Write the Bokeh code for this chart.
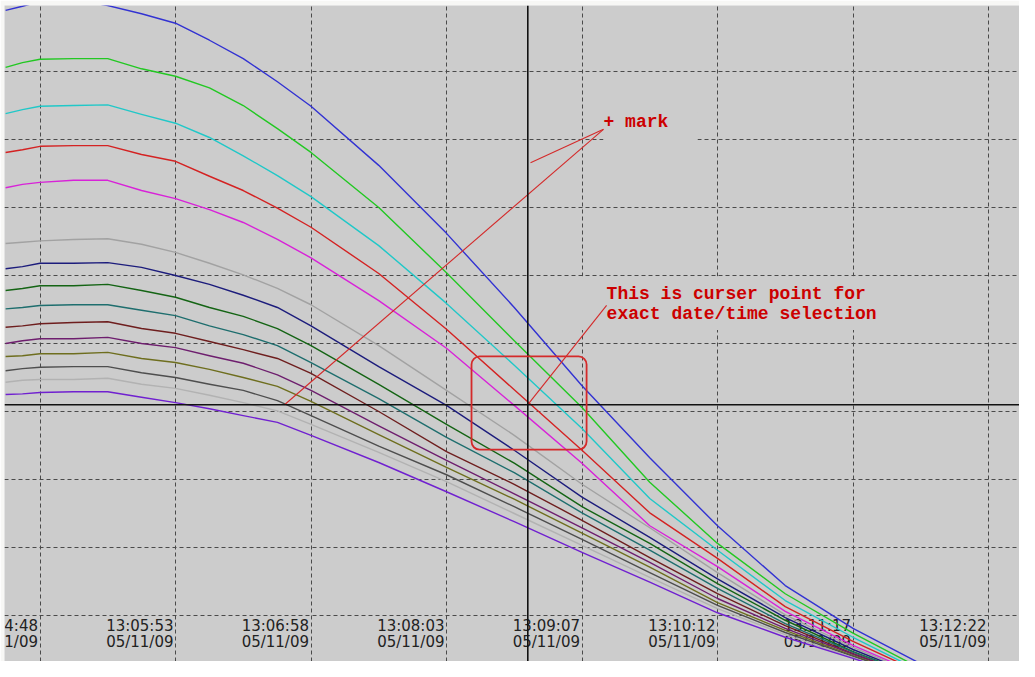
from datetime import datetime
from bokeh.plotting import figure
from bokeh.models import Range1d, Grid, FixedTicker, BoxAnnotation, Span
from bokeh.core.properties import value
from bokeh.embed import file_html
from bokeh.resources import INLINE

# ---------------- data ----------------
BASE = datetime(2009, 5, 11, 13, 4, 48)
EPOCH = datetime(1970, 1, 1)

# sample times, seconds after 13:04:48 on 05/11/09
sample_seconds = [-16.5, -8.4, 0, 16.1, 32.5, 48.7, 65, 81.3, 97.5, 113.9, 130,
                  162.5, 195, 227.5, 260, 292.5, 325, 357.5, 390, 422.5, 446.5]

blue      = [99.0, 99.6, 100.3, 100.6, 99.7, 98.5, 97.1, 94.6, 91.9, 88.5, 84.9,
             76.2, 66.2, 55.3, 43.8, 33.2, 23.2, 14.4, 8.1, 2.9, 0.6]
green     = [90.6, 91.3, 91.8, 91.9, 91.9, 90.4, 89.3, 87.6, 85.0, 81.6, 78.1,
             70.0, 60.4, 50.4, 40.6, 29.6, 20.6, 13.2, 7.4, 2.2, 0.4]
cyan      = [83.8, 84.4, 84.9, 85.0, 85.1, 83.7, 82.4, 80.3, 77.6, 74.7, 71.6,
             64.4, 55.9, 46.8, 37.5, 27.2, 19.6, 12.2, 6.8, 1.8, 0.3]
red       = [78.1, 78.5, 79.0, 79.1, 79.1, 77.8, 76.8, 74.6, 72.5, 69.9, 67.1,
             60.3, 52.1, 43.2, 34.3, 25.1, 18.4, 11.3, 6.2, 1.6, 0.3]
magenta   = [72.9, 73.4, 73.7, 74.0, 74.0, 72.5, 71.3, 69.7, 67.8, 65.3, 62.6,
             56.3, 49.3, 40.9, 32.4, 23.2, 17.2, 10.6, 5.6, 1.3, 0.1]
lightgray = [64.7, 64.9, 65.1, 65.3, 65.4, 64.6, 63.4, 61.8, 60.1, 58.1, 55.7,
             49.7, 43.1, 36.5, 29.3, 22.9, 16.3, 10.1, 5.3, 1.2, 0.1]
navy      = [61.0, 61.3, 61.8, 61.8, 61.9, 61.2, 60.0, 58.7, 57.1, 55.3, 52.6,
             46.6, 40.9, 34.3, 27.4, 21.5, 15.4, 9.7, 5.0, 1.0, 0.0]
darkgreen = [57.8, 58.1, 58.5, 58.5, 58.7, 57.8, 56.8, 55.3, 54.0, 52.2, 49.7,
             44.0, 38.1, 32.4, 26.0, 20.6, 14.7, 9.3, 4.7, 0.9, 0.0]
teal      = [55.1, 55.3, 55.6, 55.7, 55.7, 54.9, 54.1, 52.6, 51.3, 49.7, 47.2,
             41.9, 36.2, 31.0, 25.1, 19.6, 14.0, 8.8, 4.6, 0.9, 0.0]
maroon    = [52.4, 52.6, 52.9, 53.1, 53.2, 52.2, 51.5, 50.3, 49.1, 47.8, 45.6,
             40.0, 34.1, 29.3, 24.0, 18.5, 13.2, 8.5, 4.4, 0.7, -0.1]
purple    = [50.0, 50.4, 50.7, 50.7, 50.9, 50.0, 49.4, 48.2, 47.1, 45.4, 43.1,
             37.9, 32.8, 27.9, 22.9, 17.8, 12.5, 8.1, 4.3, 0.7, -0.1]
olive     = [48.1, 48.2, 48.5, 48.5, 48.7, 47.8, 47.2, 46.2, 45.0, 43.7, 41.5,
             36.6, 31.8, 27.1, 22.1, 17.1, 11.9, 7.8, 4.1, 0.6, -0.1]
darkgray  = [46.0, 46.3, 46.5, 46.6, 46.6, 45.7, 45.0, 44.0, 43.1, 41.6, 39.4,
             34.9, 30.7, 26.0, 21.2, 16.3, 11.5, 7.5, 4.0, 0.6, -0.3]
silver    = [44.3, 44.6, 44.7, 44.7, 44.9, 44.0, 43.4, 42.4, 41.3, 40.1, 38.1,
             34.0, 29.7, 25.0, 20.3, 15.6, 11.0, 7.2, 3.8, 0.4, -0.3]
violet    = [42.5, 42.6, 42.8, 42.9, 42.9, 42.1, 41.3, 40.4, 39.4, 38.4, 36.5,
             32.5, 28.2, 23.8, 19.3, 14.9, 10.4, 6.8, 3.7, 0.4, -0.3]

series = [
    (blue, "#3232d2"), (green, "#22c822"), (cyan, "#20c8c8"), (red, "#d42222"),
    (magenta, "#d822d8"), (lightgray, "#a2a2a2"), (navy, "#1c1c7c"),
    (darkgreen, "#146414"), (teal, "#1e6e6e"), (maroon, "#6e1e1e"),
    (purple, "#6e1e6e"), (olive, "#6e6e1e"), (darkgray, "#4e4e4e"),
    (silver, "#b2b2b2"), (violet, "#7020d0"),
]

tick_seconds = [0, 65, 130, 195, 260, 325, 390, 455]
tick_times = ["13:04:48", "13:05:53", "13:06:58", "13:08:03",
              "13:09:07", "13:10:12", "13:11:17", "13:12:22"]
tick_dates = ["05/11/09"] * 8
value_grid = [10, 20, 30, 40, 50, 60, 70, 80, 90, 100]

cursor_seconds = 234.0
cursor_value = 41.0

# annotation anchor points (seconds, value)
mark_tip = (270.3, 81.5)
mark_short_end = (235.3, 76.6)
mark_long_end = (117.3, 41.0)
note_anchor = (271.8, 55.6)


def ms(sec):
    return ((BASE - EPOCH).total_seconds() + sec) * 1000.0


# ---------------- figure ----------------
p = figure(width=1019, height=661, output_backend="svg", toolbar_location=None,
           x_axis_location=None, y_axis_location=None,
           x_range=Range1d(ms(-17.03), ms(469.87)), y_range=Range1d(3.235, 99.71),
           min_border=0, min_border_left=4, min_border_top=5,
           background_fill_color="#cccccc",
           border_fill_color="#f7f7f5", outline_line_color=None)

# drop the default grids (they belong to the hidden axes)
p.grid.grid_line_color = None
p.grid.visible = False

gx = Grid(dimension=0, ticker=FixedTicker(ticks=[ms(s) for s in tick_seconds]),
          grid_line_color="#4a4a4a", grid_line_dash="4 3", grid_line_width=1)
gy = Grid(dimension=1, ticker=FixedTicker(ticks=value_grid),
          grid_line_color="#4a4a4a", grid_line_dash="4 3", grid_line_width=1)
p.add_layout(gx)
p.add_layout(gy)

# text boxes of the notes hide the grid behind them
p.quad(left=[ms(270.3), ms(258.8)], right=[ms(315.4), ms(408.0)],
       top=[84.0, 59.9], bottom=[79.6, 52.0],
       fill_color="#cccccc", line_color=None)

# tick labels drawn inside the plot
tx = [ms(s) for s in tick_seconds]
p.text(x=tx, y=[8.4] * len(tx), text=tick_times, text_align="right",
       text_baseline="alphabetic", text_font=value("DejaVu Sans"),
       text_font_size="15px", text_color="#222222", x_offset=-2)
p.text(x=tx, y=[6.1] * len(tx), text=tick_dates, text_align="right",
       text_baseline="alphabetic", text_font=value("DejaVu Sans"),
       text_font_size="15px", text_color="#222222", x_offset=-2)

xs = [ms(s) for s in sample_seconds]
for vals, col in series:
    p.line(xs, vals, line_color=col, line_width=1.4, line_join="round")

# cursor cross-hair
p.add_layout(Span(location=ms(cursor_seconds), dimension="height",
                  line_color="#111111", line_width=1.6))
p.add_layout(Span(location=cursor_value, dimension="width",
                  line_color="#111111", line_width=1.6))

# annotations
RED = "#cc0000"
LRED = "#d42a2a"
p.segment(x0=[ms(mark_tip[0]), ms(mark_tip[0]), ms(note_anchor[0])],
          y0=[mark_tip[1], mark_tip[1], note_anchor[1]],
          x1=[ms(mark_short_end[0]), ms(mark_long_end[0]), ms(cursor_seconds)],
          y1=[mark_short_end[1], mark_long_end[1], cursor_value],
          line_color=LRED, line_width=1.1)

p.add_layout(BoxAnnotation(left=ms(207.0), right=ms(262.2), top=48.1, bottom=34.4,
                           fill_alpha=0, line_color=LRED, line_alpha=1.0,
                           line_width=1.8, border_radius=8))

p.text(x=[ms(270.3)], y=[82.6], text=["+ mark"], text_font=value("Liberation Mono"),
       text_font_style="bold", text_font_size="18px", text_color=RED,
       text_baseline="alphabetic")
p.text(x=[ms(271.8), ms(271.8)], y=[57.35, 54.4],
       text=["This is curser point for", "exact date/time selection"],
       text_font=value("Liberation Mono"), text_font_style="bold",
       text_font_size="18px", text_color=RED, text_baseline="alphabetic")

open("out.html", "w").write(file_html(p, INLINE))
